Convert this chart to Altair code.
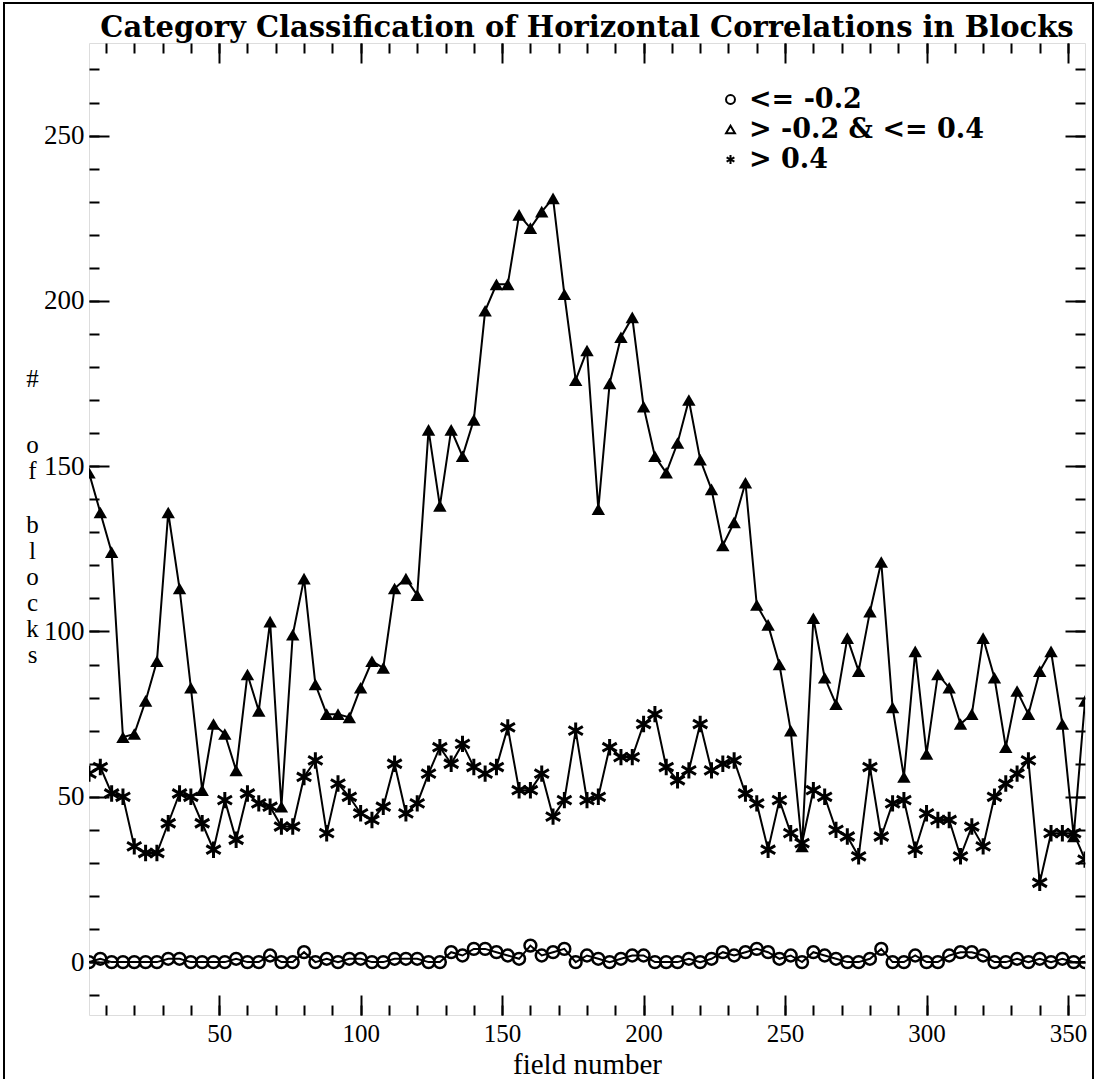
import altair as alt
import pandas as pd

# Field numbers (every 4th field) and block counts per correlation category
field = list(range(4, 357, 4))

low = [0, 1, 0, 0, 0, 0, 0, 1, 1, 0,
       0, 0, 0, 1, 0, 0, 2, 0, 0, 3,
       0, 1, 0, 1, 1, 0, 0, 1, 1, 1,
       0, 0, 3, 2, 4, 4, 3, 2, 1, 5,
       2, 3, 4, 0, 2, 1, 0, 1, 2, 2,
       0, 0, 0, 1, 0, 1, 3, 2, 3, 4,
       3, 1, 2, 0, 3, 2, 1, 0, 0, 1,
       4, 0, 0, 2, 0, 0, 2, 3, 3, 2,
       0, 0, 1, 0, 1, 0, 1, 0, 0]

mid = [148, 136, 124, 68, 69, 79, 91, 136, 113, 83,
       52, 72, 69, 58, 87, 76, 103, 47, 99, 116,
       84, 75, 75, 74, 83, 91, 89, 113, 116, 111,
       161, 138, 161, 153, 164, 197, 205, 205, 226, 222,
       227, 231, 202, 176, 185, 137, 175, 189, 195, 168,
       153, 148, 157, 170, 152, 143, 126, 133, 145, 108,
       102, 90, 70, 35, 104, 86, 78, 98, 88, 106,
       121, 77, 56, 94, 63, 87, 83, 72, 75, 98,
       86, 65, 82, 75, 88, 94, 72, 38, 79]

high = [57, 59, 51, 50, 35, 33, 33, 42, 51, 50,
        42, 34, 49, 37, 51, 48, 47, 41, 41, 56,
        61, 39, 54, 50, 45, 43, 47, 60, 45, 48,
        57, 65, 60, 66, 59, 57, 59, 71, 52, 52,
        57, 44, 49, 70, 49, 50, 65, 62, 62, 72,
        75, 59, 55, 58, 72, 58, 60, 61, 51, 48,
        34, 49, 39, 36, 52, 50, 40, 38, 32, 59,
        38, 48, 49, 34, 45, 43, 43, 32, 41, 35,
        50, 54, 57, 61, 24, 39, 39, 39, 31]

categories = ["<= -0.2", "> -0.2 & <= 0.4", "> 0.4"]
asterisk = "M0,-1L0,1M-0.87,-0.5L0.87,0.5M-0.87,0.5L0.87,-0.5"
shapes = ["circle", "triangle-up", asterisk]

x_major = [50, 100, 150, 200, 250, 300, 350]
x_minor = list(range(10, 351, 10))
y_major = [0, 50, 100, 150, 200, 250]
y_minor = list(range(-10, 271, 10))

# the y title "# of blocks" is stacked one character per line, in three word groups
y_word1 = ["#"]
y_word2 = ["o", "f"]
y_word3 = ["b", "l", "o", "c", "k", "s"]

rows = []
for name, vals in zip(categories, [low, mid, high]):
    for f, v in zip(field, vals):
        rows.append({"field": f, "blocks": v, "category": name})
df = pd.DataFrame(rows)

W, H = 996, 972
xs = alt.Scale(domain=[4, 356], nice=False, zero=False)
ys = alt.Scale(domain=[-16, 278], nice=False, zero=False)

SERIF = "Liberation Serif"
BOLD_SERIF = "DejaVu Serif"

common = dict(domain=False, grid=False, tickColor="black", tickWidth=2)
word_style = dict(
    titleFont=SERIF, titleFontSize=25, titleFontWeight="normal",
    titleColor="black", titleAngle=0, titleAlign="center",
    titleBaseline="middle",
)
TITLE_CX = -57  # centre of the stacked y title, relative to the plot's left edge


def tick_axis(orient, values, size, **kw):
    # ticks point inward: the axis is pulled into the plot by its tick length
    opts = dict(common)
    opts.update(kw)
    if "labels" not in kw:
        opts["labels"] = False
    if "title" not in kw:
        opts["title"] = None
    return alt.Axis(orient=orient, values=values, tickSize=size, offset=-size, **opts)


ax_bottom = tick_axis(
    "bottom", x_major, 20, labels=True, labelFont=SERIF, labelFontSize=25,
    labelColor="black", labelPadding=6, labelFlush=False, labelOverlap=False,
    title="field number", titleFont=SERIF, titleFontSize=29,
    titleFontWeight="normal", titleColor="black", titleY=78,
    titleBaseline="alphabetic",
)
ax_bottom_minor = tick_axis("bottom", x_minor, 10)
ax_top = tick_axis("top", x_major, 20)
ax_top_minor = tick_axis("top", x_minor, 10)

ax_left = tick_axis(
    "left", y_major, 20, labels=True, labelFont=SERIF, labelFontSize=27,
    labelColor="black", labelPadding=5, labelFlush=False, labelOverlap=False,
    title=y_word1, titleX=TITLE_CX - 20, titleY=335, **word_style,
)
ax_left_minor = tick_axis(
    "left", y_minor, 10, title=y_word2, titleLineHeight=26,
    titleX=TITLE_CX - 10, titleY=401, **word_style,
)
ax_right = tick_axis(
    "right", y_major, 20, title=y_word3, titleLineHeight=26,
    titleX=TITLE_CX - (W - 20), titleY=481, **word_style,
)
ax_right_minor = tick_axis("right", y_minor, 10)

shape_enc = alt.Shape(
    "category:N",
    scale=alt.Scale(domain=categories, range=shapes),
    legend=alt.Legend(
        title=None, orient="none", legendX=628, legendY=43, padding=0,
        labelFont=BOLD_SERIF, labelFontSize=27, labelFontWeight="bold",
        labelColor="black", labelOffset=5, labelLimit=400, rowPadding=2,
        symbolSize=80, symbolStrokeColor="black", symbolStrokeWidth=2,
        symbolFillColor="white",
    ),
)

base = alt.Chart(df)

lines = base.mark_line(color="black", strokeWidth=2, clip=True).encode(
    x=alt.X("field:Q", scale=xs, axis=ax_bottom),
    y=alt.Y("blocks:Q", scale=ys, axis=ax_left),
    detail="category:N",
)

circles = base.transform_filter(alt.datum.category == categories[0]).mark_point(
    filled=False, color="black", size=140, strokeWidth=2.5, opacity=1, clip=True
).encode(
    x=alt.X("field:Q", scale=xs, axis=ax_bottom_minor),
    y=alt.Y("blocks:Q", scale=ys, axis=ax_left_minor),
    shape=shape_enc,
)

triangles = base.transform_filter(alt.datum.category == categories[1]).mark_point(
    filled=True, color="black", size=180, opacity=1, clip=True
).encode(
    x=alt.X("field:Q", scale=xs, axis=ax_top),
    y=alt.Y("blocks:Q", scale=ys, axis=ax_right),
    shape=shape_enc,
)

stars = base.transform_filter(alt.datum.category == categories[2]).mark_point(
    filled=False, color="black", size=270, strokeWidth=3, opacity=1, clip=True
).encode(
    x=alt.X("field:Q", scale=xs, axis=ax_top_minor),
    y=alt.Y("blocks:Q", scale=ys, axis=ax_right_minor),
    shape=shape_enc,
)

# thin border around the whole figure
border = alt.Chart(df).mark_rect(
    fillOpacity=0, stroke="black", strokeWidth=2
).encode(
    x=alt.value(-85), x2=alt.value(1004), y=alt.value(-40), y2=alt.value(1045)
)

chart = (
    alt.layer(lines, circles, triangles, stars, border)
    .resolve_axis(x="independent", y="independent")
    .properties(
        width=W,
        height=H,
        autosize=alt.AutoSizeParams(type="none"),
        padding={"left": 89, "top": 43, "right": 10, "bottom": 64},
        # the figure border is the top of the view's bounds, so the title is
        # pulled back down below it into the band above the plot
        title=alt.TitleParams(
            "Category Classification of Horizontal Correlations in Blocks",
            font=BOLD_SERIF, fontSize=29, fontWeight="bold", color="black",
            anchor="middle", offset=-64, baseline="alphabetic", frame="group",
        ),
    )
    .configure_view(stroke="black", strokeWidth=2)
    .configure(background="white")
)

chart.save("out.html", embed_options={"renderer": "svg", "actions": False})
